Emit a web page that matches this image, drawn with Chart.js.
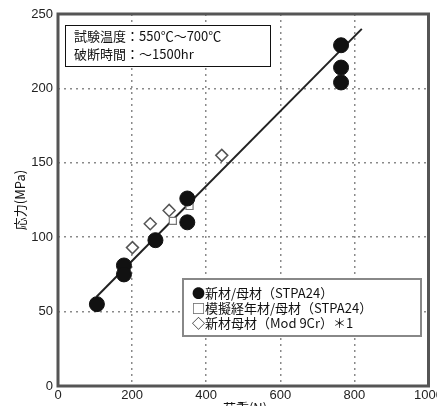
<!DOCTYPE html>
<html>
<head>
<meta charset="utf-8">
<script src="https://cdn.jsdelivr.net/npm/chart.js@4.4.0/dist/chart.umd.min.js"></script>
<style>
  html, body { margin: 0; padding: 0; background: #fff; }
  #wrap { width: 437px; height: 406px; position: relative; overflow: hidden; }
</style>
</head>
<body>
<div id="wrap"><canvas id="chart" width="437" height="406"></canvas></div>
<script>
// 新材/母材 (STPA24)
var newX = [105, 178, 178, 263, 349, 349, 764, 764, 764];
var newY = [55, 81, 75, 98, 126, 110, 229, 214, 204];
// 模擬経年材/母材 (STPA24)
var agedX = [180, 310, 355];
var agedY = [78, 111, 121];
// 新材母材 (Mod 9Cr)
var modX = [201, 249, 300, 442];
var modY = [93, 109, 118, 155];
// fit line end points
var fitX = [104, 820];
var fitY = [60, 240];

var xTicks = [0, 200, 400, 600, 800, 1000];
var yTicks = [0, 50, 100, 150, 200, 250];

var infoLines = ['試験温度：550℃～700℃', '破断時間：～1500hr'];
var legendLines = ['●新材/母材（STPA24）', '□模擬経年材/母材（STPA24）', '◇新材母材（Mod 9Cr）＊1'];

function pts(xs, ys) {
    var out = [];
    for (var i = 0; i < xs.length; i++) out.push({x: xs[i], y: ys[i]});
    return out;
}

var jp = '"Noto Sans CJK JP", sans-serif';

var boxes = {
    id: 'boxes',
    afterDraw: function(chart) {
        var ctx = chart.ctx;
        var a = chart.chartArea;
        ctx.save();
        // frame
        ctx.strokeStyle = '#555';
        ctx.lineWidth = 3;
        ctx.strokeRect(a.left, a.top, a.right - a.left, a.bottom - a.top);

        // info box
        ctx.fillStyle = '#fff';
        ctx.fillRect(65, 25, 205, 41);
        ctx.strokeStyle = '#111';
        ctx.lineWidth = 1;
        ctx.strokeRect(65.5, 25.5, 205, 41);
        ctx.fillStyle = '#111';
        ctx.font = '13px ' + jp;
        ctx.textBaseline = 'middle';
        ctx.textAlign = 'left';
        ctx.fillText(infoLines[0], 74, 36);
        ctx.fillText(infoLines[1], 74, 54);

        // legend box
        ctx.fillStyle = '#fff';
        ctx.fillRect(182, 278, 240, 59);
        ctx.strokeStyle = '#888';
        ctx.lineWidth = 2;
        ctx.strokeRect(183, 279, 238, 57);
        ctx.fillStyle = '#111';
        ctx.font = '13px ' + jp;
        for (var i = 0; i < legendLines.length; i++) {
            ctx.fillText(legendLines[i], 192, 293 + i * 15);
        }

        // axis titles
        ctx.font = '13px ' + jp;
        ctx.textAlign = 'center';
        ctx.textBaseline = 'top';
        ctx.fillText('荷重(N)', 245, 402);
        ctx.translate(20, 200);
        ctx.rotate(-Math.PI / 2);
        ctx.textBaseline = 'middle';
        ctx.fillText('応力(MPa)', 0, 0);
        ctx.restore();
    }
};

var gridStyle = {
    color: '#8a8a8a',
    lineWidth: 1.5,
    drawTicks: false
};

var tickFont = { family: '"Liberation Sans", Arial, sans-serif', size: 13 };

var ctx = document.getElementById('chart').getContext('2d');
var chart = new Chart(ctx, {
    type: 'scatter',
    data: {
        datasets: [
            {
                label: '新材/母材（STPA24）',
                data: pts(newX, newY),
                pointStyle: 'circle',
                pointRadius: 7.5,
                backgroundColor: '#111',
                borderColor: '#111',
                borderWidth: 1
            },
            {
                label: '模擬経年材/母材（STPA24）',
                data: pts(agedX, agedY),
                pointStyle: 'rect',
                pointRadius: 5,
                backgroundColor: '#fff',
                borderColor: '#777',
                borderWidth: 1.2
            },
            {
                label: '新材母材（Mod 9Cr）＊1',
                data: pts(modX, modY),
                pointStyle: 'rectRot',
                pointRadius: 6,
                backgroundColor: '#fff',
                borderColor: '#555',
                borderWidth: 1.5
            },
            {
                label: 'fit',
                data: pts(fitX, fitY),
                showLine: true,
                pointRadius: 0,
                borderColor: '#222',
                borderWidth: 2
            }
        ]
    },
    options: {
        animation: false,
        responsive: false,
        layout: { padding: { top: 14, right: 6, left: 0, bottom: 0 } },
        plugins: {
            legend: { display: false },
            tooltip: { enabled: false }
        },
        scales: {
            x: {
                type: 'linear',
                min: 0,
                max: 1000,
                afterBuildTicks: function(s) { s.ticks = xTicks.map(function(v) { return {value: v}; }); },
                afterFit: function(s) { s.height = 20; s.paddingLeft = 0; s.paddingRight = 0; },
                grid: gridStyle,
                border: { display: false, dash: [2, 4] },
                ticks: {
                    padding: 2,
                    color: '#222',
                    font: tickFont,
                    callback: function(v) { return String(v); }
                }
            },
            y: {
                type: 'linear',
                min: 0,
                max: 250,
                afterBuildTicks: function(s) { s.ticks = yTicks.map(function(v) { return {value: v}; }); },
                afterFit: function(s) { s.width = 58; },
                grid: gridStyle,
                border: { display: false, dash: [2, 4] },
                ticks: {
                    padding: 5,
                    color: '#222',
                    font: tickFont,
                    callback: function(v) { return String(v); }
                }
            }
        }
    },
    plugins: [boxes]
});
</script>
</body>
</html>
